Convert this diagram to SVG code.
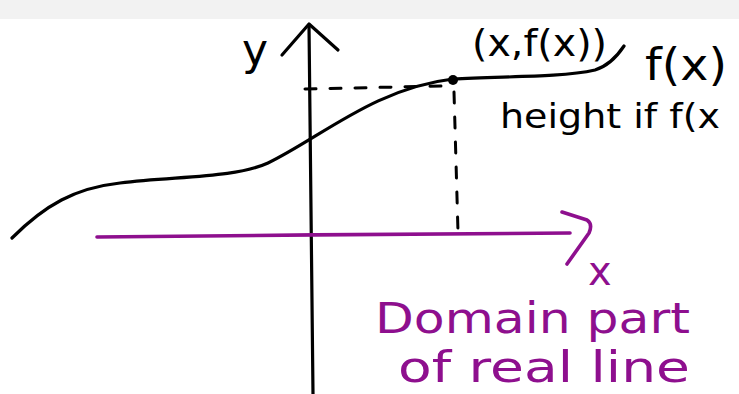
<svg xmlns="http://www.w3.org/2000/svg" width="739" height="394" viewBox="0 0 739 394">
<style>
.ink{fill:none;stroke:#000;stroke-width:3.2;stroke-linecap:round;stroke-linejoin:round}
.pur{fill:none;stroke:#8e0f8e;stroke-width:3.6;stroke-linecap:round;stroke-linejoin:round}
.dash{fill:none;stroke:#000;stroke-width:3;stroke-dasharray:11 14;stroke-linecap:round}
.tb{font-family:"Comic Sans MS","DejaVu Sans",sans-serif;fill:#000}
.tp{font-family:"Comic Sans MS","DejaVu Sans",sans-serif;fill:#8e0f8e}
</style>
<rect x="0" y="0" width="739" height="19" fill="#f2f2f2"/>
<g id="axes">
<path class="ink" d="M309,25 C310,120 311,250 313,394"/>
<path class="ink" d="M282,55 L309,24 L338,50"/>
<path class="pur" d="M97,237 C250,236 420,233 570,233"/>
<path class="pur" d="M562,212 L587,220 Q593,224 589,233 L567,264"/>
</g>
<g id="curve">
<path class="ink" d="M12,238 C45,205 75,188 120,183 C180,176 235,178 268,163 C320,138 375,88 453,79 C500,76 560,78 595,70 C608,66 618,55 624,46"/>
<circle cx="453" cy="80" r="5" fill="#000"/>
</g>
<g id="guides">
<path class="dash" d="M305,89 L443,86"/>
<path class="dash" d="M454,92 L458,232"/>
</g>
<g id="labels">
<text class="tb" x="242" y="65" font-size="44">y</text>
<text class="tb" x="472" y="56" font-size="38" textLength="135" lengthAdjust="spacingAndGlyphs">(x,f(x))</text>
<text class="tb" x="645" y="80" font-size="44" textLength="82" lengthAdjust="spacingAndGlyphs">f(x)</text>
<text class="tb" x="500" y="128" font-size="34" textLength="220" lengthAdjust="spacingAndGlyphs">height if f(x</text>
<text class="tp" x="588" y="285" font-size="40">x</text>
<text class="tp" x="375" y="333" font-size="42" textLength="315" lengthAdjust="spacingAndGlyphs">Domain part</text>
<text class="tp" x="398" y="382" font-size="42" textLength="292" lengthAdjust="spacingAndGlyphs">of real line</text>
</g>
</svg>
